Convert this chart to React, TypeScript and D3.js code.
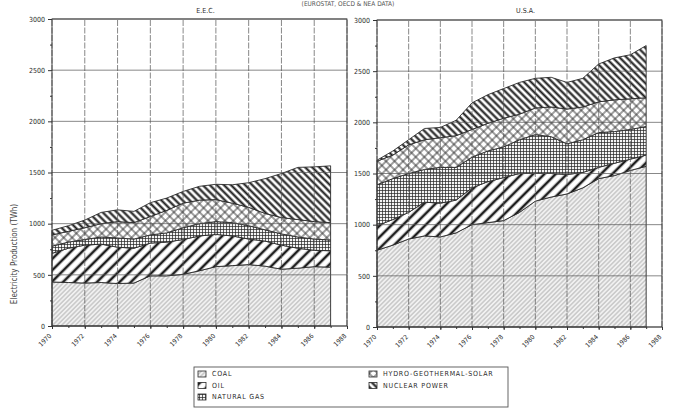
import { useEffect, useRef } from "react";
import * as d3 from "d3";

// years on the x axis (data points)
const years = [1970, 1971, 1972, 1973, 1974, 1975, 1976, 1977, 1978, 1979, 1980, 1981, 1982, 1983, 1984, 1985, 1986, 1987];

const seriesKeys = ["coal", "oil", "gas", "hydro", "nuclear"];
const seriesLabels = ["COAL", "OIL", "NATURAL GAS", "HYDRO-GEOTHERMAL-SOLAR", "NUCLEAR POWER"];

// E.E.C. production by source (TWh)
const eecCoal = [430, 425, 420, 425, 415, 420, 490, 490, 505, 540, 580, 590, 600, 585, 555, 565, 580, 575];
const eecOil = [280, 335, 370, 375, 355, 340, 320, 330, 340, 340, 315, 290, 250, 245, 235, 195, 160, 160];
const eecGas = [70, 60, 55, 70, 90, 90, 80, 90, 115, 120, 125, 130, 130, 110, 110, 110, 110, 105];
const eecHydro = [110, 105, 115, 130, 160, 160, 180, 220, 240, 230, 215, 190, 180, 160, 160, 170, 170, 170];
const eecNuclear = [45, 55, 75, 110, 115, 110, 135, 120, 115, 135, 150, 180, 240, 340, 430, 510, 535, 555];

// U.S.A. production by source (TWh)
const usaCoal = [750, 800, 860, 890, 880, 920, 1000, 1020, 1040, 1120, 1230, 1270, 1300, 1360, 1450, 1480, 1530, 1570];
const usaOil = [240, 250, 260, 330, 330, 320, 360, 400, 420, 380, 270, 230, 190, 150, 110, 120, 110, 110];
const usaGas = [400, 400, 380, 320, 350, 320, 300, 300, 300, 330, 380, 360, 300, 320, 340, 310, 290, 280];
const usaHydro = [230, 230, 280, 290, 290, 310, 270, 270, 280, 250, 260, 290, 340, 320, 300, 310, 300, 280];
const usaNuclear = [10, 40, 50, 110, 100, 150, 260, 280, 290, 310, 290, 290, 260, 280, 370, 410, 430, 510];

const xTicks = [1970, 1972, 1974, 1976, 1978, 1980, 1982, 1984, 1986, 1988];
const yTicks = [0, 500, 1000, 1500, 2000, 2500, 3000];
const yMinorTicks = [250, 750, 1250, 1750, 2250, 2750];

const FONT = "'DejaVu Sans Condensed', 'DejaVu Sans', sans-serif";
const INK = "#2a2a2a";

const App = () => {
    const ref = useRef<SVGSVGElement | null>(null);

    useEffect(() => {
        if (!ref.current) return;
        const svg = d3.select(ref.current);
        svg.selectAll("*").remove();

        // hatch patterns
        const defs = svg.append("defs");
        const hatch = (id: string, size: number, angle: number, width: number, color: string, bg: string, cross = false) => {
            const p = defs.append("pattern")
                .attr("id", id)
                .attr("patternUnits", "userSpaceOnUse")
                .attr("width", size).attr("height", size)
                .attr("patternTransform", `rotate(${angle})`);
            p.append("rect").attr("width", size).attr("height", size).attr("fill", bg);
            p.append("line").attr("x1", size / 2).attr("y1", 0).attr("x2", size / 2).attr("y2", size)
                .attr("stroke", color).attr("stroke-width", width);
            if (cross) {
                p.append("line").attr("x1", 0).attr("y1", size / 2).attr("x2", size).attr("y2", size / 2)
                    .attr("stroke", color).attr("stroke-width", width);
            }
        };
        hatch("pat-coal", 3.2, 45, 0.7, "#9a9a9a", "#f1f1f1");
        hatch("pat-oil", 8, 45, 2.6, "#1e1e1e", "#ffffff");
        hatch("pat-gas", 3, 0, 0.7, "#222", "#f4f4f4", true);
        hatch("pat-hydro", 6, 45, 0.9, "#2a2a2a", "#ffffff", true);
        hatch("pat-nuclear", 5, -45, 2.1, "#1a1a1a", "#ffffff");

        const panels = [
            { title: "E.E.C.", series: [eecCoal, eecOil, eecGas, eecHydro, eecNuclear], x0: 52, x1: 347, y0: 326, y1: 19 },
            { title: "U.S.A.", series: [usaCoal, usaOil, usaGas, usaHydro, usaNuclear], x0: 377, x1: 662, y0: 327, y1: 20 },
        ];

        panels.forEach(panel => {
            const x = d3.scaleLinear().domain([1970, 1988]).range([panel.x0, panel.x1]);
            const y = d3.scaleLinear().domain([0, 3000]).range([panel.y0, panel.y1]);
            const g = svg.append("g");

            const rows = years.map((yr, i) => {
                const r: any = { year: yr };
                seriesKeys.forEach((k, j) => { r[k] = panel.series[j][i]; });
                return r;
            });
            const stacked = d3.stack<any>().keys(seriesKeys)(rows);
            const area = d3.area<any>()
                .x(d => x(d.data.year))
                .y0(d => y(d[0]))
                .y1(d => y(d[1]));

            g.selectAll(".layer")
                .data(stacked)
                .enter().append("path")
                .attr("class", "layer")
                .attr("d", area)
                .attr("fill", d => `url(#pat-${d.key})`)
                .attr("stroke", INK)
                .attr("stroke-width", 0.9)
                .attr("stroke-linejoin", "round");

            // grid
            g.selectAll(".hgrid")
                .data(yTicks)
                .enter().append("line")
                .attr("x1", panel.x0).attr("x2", panel.x1)
                .attr("y1", d => y(d)).attr("y2", d => y(d))
                .attr("stroke", "#555").attr("stroke-width", 0.7);
            g.selectAll(".vgrid")
                .data(xTicks)
                .enter().append("line")
                .attr("x1", d => x(d)).attr("x2", d => x(d))
                .attr("y1", panel.y0).attr("y2", panel.y1)
                .attr("stroke", "#555").attr("stroke-width", 0.7)
                .attr("stroke-dasharray", "6,1.5");

            g.append("rect")
                .attr("x", panel.x0).attr("y", panel.y1)
                .attr("width", panel.x1 - panel.x0).attr("height", panel.y0 - panel.y1)
                .attr("fill", "none").attr("stroke", "#333").attr("stroke-width", 0.9);

            // axes
            const yAxis = g.append("g")
                .attr("transform", `translate(${panel.x0},0)`)
                .call(d3.axisLeft(y).tickValues(yTicks).tickSize(4).tickPadding(3).tickFormat(d3.format("d")));
            g.append("g")
                .attr("transform", `translate(${panel.x0},0)`)
                .call(d3.axisLeft(y).tickValues(yMinorTicks).tickSize(2).tickFormat(() => ""))
                .select(".domain").remove();
            yAxis.select(".domain").remove();
            yAxis.selectAll("text")
                .attr("font-family", FONT).attr("font-size", 7).attr("fill", INK);

            const xAxis = g.append("g")
                .attr("transform", `translate(0,${panel.y0})`)
                .call(d3.axisBottom(x).tickValues(xTicks).tickSize(3).tickFormat(d3.format("d")));
            g.append("g")
                .attr("transform", `translate(0,${panel.y0})`)
                .call(d3.axisBottom(x).tickValues(years).tickSize(2).tickFormat(() => ""))
                .select(".domain").remove();
            xAxis.select(".domain").remove();
            xAxis.selectAll("text")
                .attr("font-family", FONT).attr("font-size", 6.5).attr("fill", INK)
                .attr("text-anchor", "end")
                .attr("dy", "0.3em")
                .attr("transform", "translate(-2,9) rotate(-45)")
                .attr("y", 0);
            g.selectAll(".tick line").attr("stroke", "#333");

            g.append("text")
                .attr("x", (panel.x0 + panel.x1) / 2 + 6)
                .attr("y", 13)
                .attr("text-anchor", "middle")
                .attr("font-family", FONT).attr("font-size", 7).attr("fill", INK)
                .text(panel.title);
        });

        // source line at the very top
        svg.append("text")
            .attr("x", 348).attr("y", 6)
            .attr("text-anchor", "middle")
            .attr("font-family", FONT).attr("font-size", 6.5).attr("fill", "#555")
            .text("(EUROSTAT, OECD & NEA DATA)");

        svg.append("text")
            .attr("transform", "translate(17,254) rotate(-90)")
            .attr("text-anchor", "middle")
            .attr("font-family", FONT).attr("font-size", 8).attr("fill", "#444")
            .text("Electricity Production (TWh)");

        // legend
        const legend = svg.append("g");
        legend.append("rect")
            .attr("x", 194).attr("y", 367).attr("width", 314).attr("height", 40)
            .attr("fill", "none").attr("stroke", "#555").attr("stroke-width", 0.9);
        const slots = [
            { x: 198, y: 374 }, { x: 198, y: 385.5 }, { x: 198, y: 397 },
            { x: 369, y: 374 }, { x: 369, y: 385.5 },
        ];
        seriesKeys.forEach((k, i) => {
            const s = slots[i];
            legend.append("rect")
                .attr("x", s.x).attr("y", s.y - 3).attr("width", 8).attr("height", 6)
                .attr("fill", `url(#pat-${k})`).attr("stroke", INK).attr("stroke-width", 0.8);
            legend.append("text")
                .attr("x", s.x + 14).attr("y", s.y)
                .attr("dy", "0.35em")
                .attr("font-family", FONT).attr("font-size", 7).attr("letter-spacing", 0.8)
                .attr("fill", INK)
                .text(seriesLabels[i]);
        });
    }, []);

    return (
        <svg ref={ref} width={675} height={411}
            style={{ position: "absolute", left: 0, top: 0, background: "#fff" }} />
    );
};

export default App;
